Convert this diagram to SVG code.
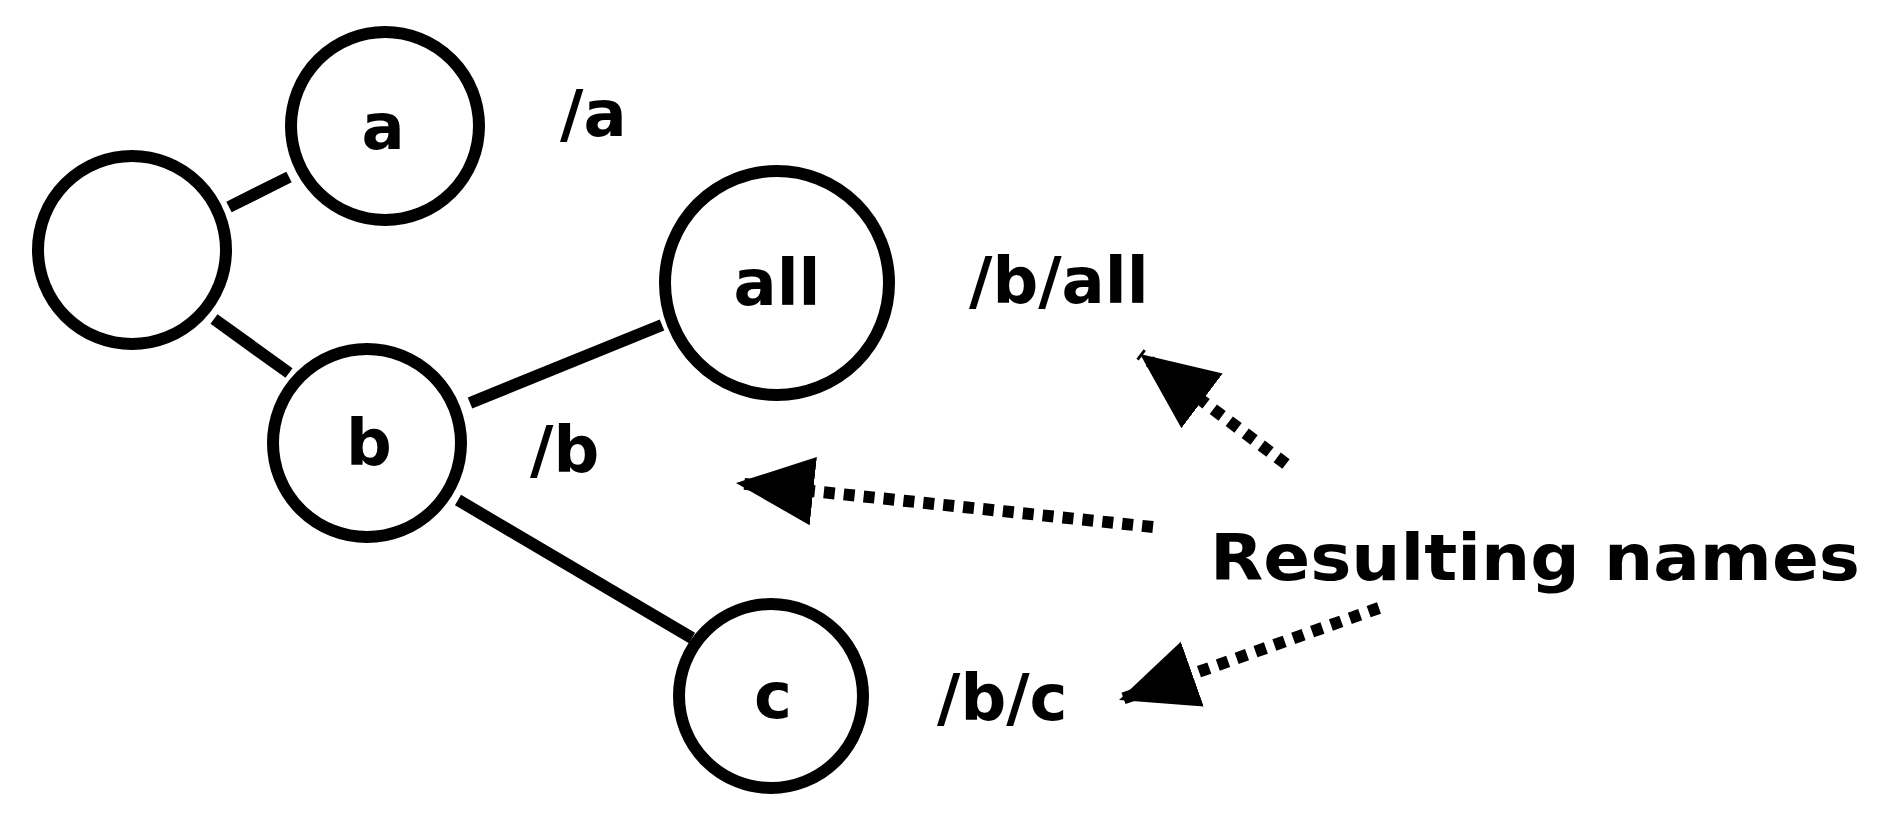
<svg xmlns="http://www.w3.org/2000/svg" width="1890" height="826" viewBox="0 0 1890 826">
<style>
.n{fill:#fff;stroke:#000;stroke-width:12}
.e{stroke:#000;stroke-width:12}
.d{stroke:#000;stroke-width:12;stroke-dasharray:11 9;fill:none}
text{font-family:"DejaVu Sans",sans-serif;font-weight:bold;font-size:64px;fill:#000}
.c{text-anchor:middle}
</style>
<defs>
<marker id="ah" markerUnits="userSpaceOnUse" markerWidth="80" markerHeight="80" refX="68" refY="30" orient="auto" viewBox="0 0 70 60">
<path d="M0,0 L68,30 L0,60 z" fill="#000"/>
</marker>
</defs>
<g id="connectors">
<line class="e" x1="229" y1="207" x2="289" y2="177"/>
<line class="e" x1="214" y1="319" x2="289" y2="373"/>
<line class="e" x1="470" y1="403" x2="662" y2="325"/>
<line class="e" x1="458" y1="500" x2="692" y2="638"/>
<line class="d" x1="1286" y1="464" x2="1140" y2="354" marker-end="url(#ah)"/>
<line class="d" x1="1153" y1="527" x2="736" y2="483" marker-end="url(#ah)"/>
<line class="d" x1="1379" y1="608" x2="1119" y2="700" marker-end="url(#ah)"/>
</g>
<g id="root"><circle class="n" cx="132" cy="250" r="94"/></g>
<g id="a"><circle class="n" cx="385" cy="126" r="94"/><text class="c" x="383" y="149">a</text></g>
<g id="all"><circle class="n" cx="777" cy="283" r="112"/><text class="c" x="777" y="305">all</text></g>
<g id="b"><circle class="n" cx="367" cy="443" r="94"/><text class="c" x="369" y="465">b</text></g>
<g id="c"><circle class="n" cx="771" cy="696" r="92"/><text class="c" x="773" y="718">c</text></g>
<g id="labels">
<text x="560" y="136">/a</text>
<text x="969" y="303">/b/all</text>
<text x="530" y="472">/b</text>
<text x="937" y="720">/b/c</text>
<text x="1210" y="580" textLength="650" lengthAdjust="spacingAndGlyphs">Resulting names</text>
</g>
</svg>
